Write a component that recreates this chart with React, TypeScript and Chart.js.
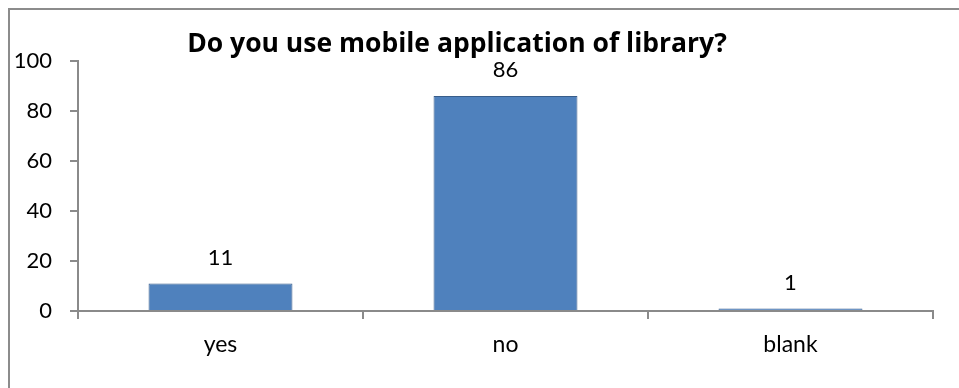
import React, { useEffect, useRef } from "react";
import { Chart, registerables } from "chart.js";

Chart.register(...registerables);

const categories = ["yes", "no", "blank"];
const responses = [11, 86, 1];
const yTicks = [0, 20, 40, 60, 80, 100];
const chartTitle = "Do you use mobile application of library?";

const FONT = "Lato, 'Open Sans', sans-serif";
const TITLE_FONT = "'Open Sans', Lato, sans-serif";
const AXIS_GREY = "#8a8a8a";

// Value labels above each bar, the heading and the frame lines.
const decorations = {
  id: "decorations",
  beforeDraw(chart: any) {
    const ctx = chart.ctx;
    ctx.save();
    ctx.strokeStyle = "#8c8c8c";
    ctx.lineWidth = 2;
    ctx.beginPath();
    ctx.moveTo(9, chart.height);
    ctx.lineTo(9, 9);
    ctx.lineTo(chart.width, 9);
    ctx.stroke();
    ctx.restore();
  },
  afterDatasetsDraw(chart: any) {
    const ctx = chart.ctx;
    ctx.save();
    ctx.fillStyle = "#000";
    ctx.textAlign = "center";
    ctx.textBaseline = "alphabetic";
    ctx.font = `22px ${FONT}`;
    const meta = chart.getDatasetMeta(0);
    meta.data.forEach((bar: any, i: number) => {
      ctx.fillText(String(responses[i]), bar.x, bar.y - 19);
    });
    ctx.font = `bold 26.5px ${TITLE_FONT}`;
    ctx.fillText(chartTitle, 457, 52);
    ctx.restore();
  },
};

export default function App() {
  const canvasRef = useRef<HTMLCanvasElement | null>(null);

  useEffect(() => {
    document.body.style.margin = "0";
    const canvas = canvasRef.current;
    if (!canvas) return;
    const chart = new Chart(canvas, {
      type: "bar",
      data: {
        labels: categories,
        datasets: [
          {
            data: responses,
            backgroundColor: "#4F81BD",
            borderColor: "#385D8A",
            borderWidth: 1,
            categoryPercentage: 1,
            barPercentage: 0.505,
          },
        ],
      },
      options: {
        animation: false,
        responsive: false,
        maintainAspectRatio: false,
        devicePixelRatio: 1,
        layout: { padding: { top: 61, right: 26, bottom: 0, left: 0 } },
        plugins: {
          legend: { display: false },
          title: { display: false },
          tooltip: { enabled: false },
        },
        scales: {
          x: {
            grid: {
              offset: true,
              drawOnChartArea: false,
              drawTicks: true,
              tickLength: 8,
              color: AXIS_GREY,
              lineWidth: 2,
            },
            border: { color: AXIS_GREY, width: 2 },
            ticks: {
              color: "#000",
              font: { family: FONT, size: 23 },
              padding: 12,
            },
            afterFit(scale: any) {
              scale.height = 77;
            },
          },
          y: {
            min: 0,
            max: 100,
            afterBuildTicks(scale: any) {
              scale.ticks = yTicks.map((v) => ({ value: v }));
            },
            grid: {
              drawOnChartArea: false,
              drawTicks: true,
              tickLength: 8,
              color: AXIS_GREY,
              lineWidth: 2,
            },
            border: { color: AXIS_GREY, width: 2 },
            ticks: {
              color: "#000",
              font: { family: FONT, size: 22 },
              padding: 18,
            },
            afterFit(scale: any) {
              scale.width = 78;
            },
          },
        },
      },
      plugins: [decorations],
    });
    return () => chart.destroy();
  }, []);

  return (
    <div style={{ width: 959, height: 388, position: "relative", background: "#fff" }}>
      <canvas ref={canvasRef} width={959} height={388} style={{ display: "block" }} />
    </div>
  );
}
